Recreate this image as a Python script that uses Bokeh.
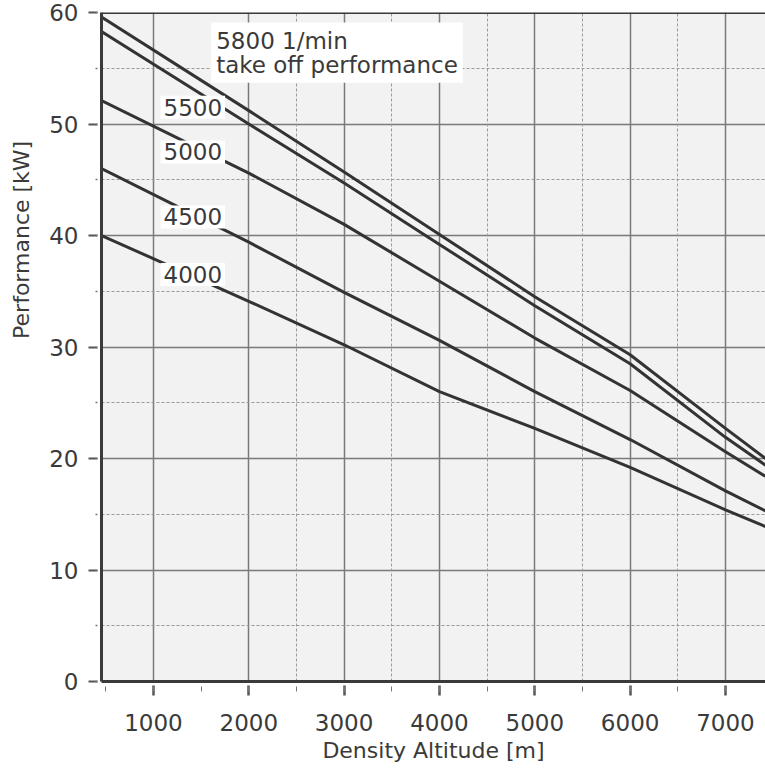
import math
from bokeh.plotting import figure
from bokeh.layouts import row
from bokeh.models import (Range1d, SingleIntervalTicker, FixedTicker, Grid,
                          Label, Span)
from bokeh.embed import file_html
from bokeh.resources import INLINE

# ---- data ----
altitude = [455, 2000, 3000, 4000, 5000, 6000, 7000, 7420]      # density altitude [m]
perf_5800 = [59.6, 51.2, 45.7, 40.1, 34.5, 29.3, 22.7, 20.0]     # kW, take off
perf_5500 = [58.3, 50.0, 44.7, 39.2, 33.7, 28.5, 21.9, 19.4]
perf_5000 = [52.1, 45.6, 41.0, 35.9, 30.8, 26.1, 20.6, 18.4]
perf_4500 = [46.0, 39.4, 34.9, 30.6, 26.0, 21.7, 17.1, 15.3]
perf_4000 = [40.0, 34.1, 30.2, 26.0, 22.7, 19.2, 15.4, 13.9]
series = [perf_5800, perf_5500, perf_5000, perf_4500, perf_4000]

curve_labels = ["5500", "5000", "4500", "4000"]
top_label = "5800 1/min\ntake off performance"
x_minor_grid = [2500, 3500, 4500, 5500, 6500]

FONT = "DejaVu Sans"
TXT = "#3a3a3a"
DARK = "#3a3a3a"
LAB_W = 40

p = figure(frame_width=664, frame_height=669,
           x_range=Range1d(455, 7420), y_range=Range1d(0, 60),
           output_backend="svg", toolbar_location=None,
           min_border_left=101 - LAB_W, min_border_top=12, min_border_right=0,
           min_border_bottom=0)

p.background_fill_color = "#f2f2f2"
p.border_fill_color = "white"
p.outline_line_color = None

# axes
xa = p.xaxis[0]
xa.ticker = SingleIntervalTicker(interval=1000, num_minor_ticks=2)
ya = p.yaxis[0]
ya.ticker = SingleIntervalTicker(interval=10, num_minor_ticks=2)

for ax in (xa, ya):
    ax.axis_line_width = 3
    ax.axis_line_color = DARK
    ax.major_label_text_font = FONT
    ax.major_label_text_font_size = "23px"
    ax.major_label_text_color = TXT
    ax.major_tick_line_color = "#555555"
    ax.minor_tick_line_color = "#777777"

xa.major_tick_in = -4
xa.major_tick_out = 14
xa.major_tick_line_width = 2.5
xa.minor_tick_in = -5
xa.minor_tick_out = 10
xa.minor_tick_line_width = 1
xa.major_label_standoff = 18
xa.axis_label = "Density Altitude [m]"
xa.axis_label_text_font = FONT
xa.axis_label_text_font_size = "22px"
xa.axis_label_text_font_style = "normal"
xa.axis_label_text_color = TXT
xa.axis_label_standoff = 4

ya.major_tick_in = -4
ya.major_tick_out = 13
ya.major_tick_line_width = 2
ya.minor_tick_in = -4
ya.minor_tick_out = 6
ya.minor_tick_line_width = 1.5
ya.major_label_standoff = 10

# grids
p.xgrid.grid_line_color = "#7a7a7a"
p.xgrid.grid_line_width = 1.5
p.ygrid.grid_line_color = "#7a7a7a"
p.ygrid.grid_line_width = 1.5
p.ygrid.minor_grid_line_color = "#9a9a9a"
p.ygrid.minor_grid_line_dash = "3 2"
p.ygrid.minor_grid_line_width = 1
p.add_layout(Grid(dimension=0, ticker=FixedTicker(ticks=x_minor_grid),
                  grid_line_color="#9a9a9a", grid_line_dash="3 2",
                  grid_line_width=1))

# top border
p.add_layout(Span(location=60, dimension="width", line_color=DARK, line_width=3))

# curves
for s in series:
    p.line(altitude, s, line_color="#333333", line_width=3, line_join="round")

# labels with white boxes
label_y = [51.5, 47.5, 41.66, 36.5]
for t, yy in zip(curve_labels, label_y):
    p.add_layout(Label(x=1074, y=yy, text=t, text_font=FONT,
                       text_font_size="23px", text_color=TXT,
                       text_align="left", text_baseline="middle",
                       background_fill_color="white", padding=3))

p.add_layout(Label(x=1606, y=59.1, text=top_label, text_font=FONT,
                   text_font_size="23px", text_color=TXT,
                   text_line_height=0.93,
                   text_align="left", text_baseline="top",
                   background_fill_color="white", padding=5))

# narrow strip at the left holding the y axis title (placed above centre)
LAB_H = 700
lf = figure(width=LAB_W, height=LAB_H, x_range=Range1d(0, LAB_W),
            y_range=Range1d(0, LAB_H), output_backend="svg",
            toolbar_location=None, min_border=0)
lf.axis.visible = False
lf.grid.visible = False
lf.outline_line_color = None
lf.background_fill_color = "white"
lf.border_fill_color = "white"
lf.add_layout(Label(x=21, y=LAB_H - 263.5, text="Performance [kW]",
                    text_font=FONT, text_font_size="22px", text_color=TXT,
                    angle=math.pi / 2, text_align="center",
                    text_baseline="middle"))

layout = row(lf, p)
open("out.html", "w").write(file_html(layout, INLINE))
